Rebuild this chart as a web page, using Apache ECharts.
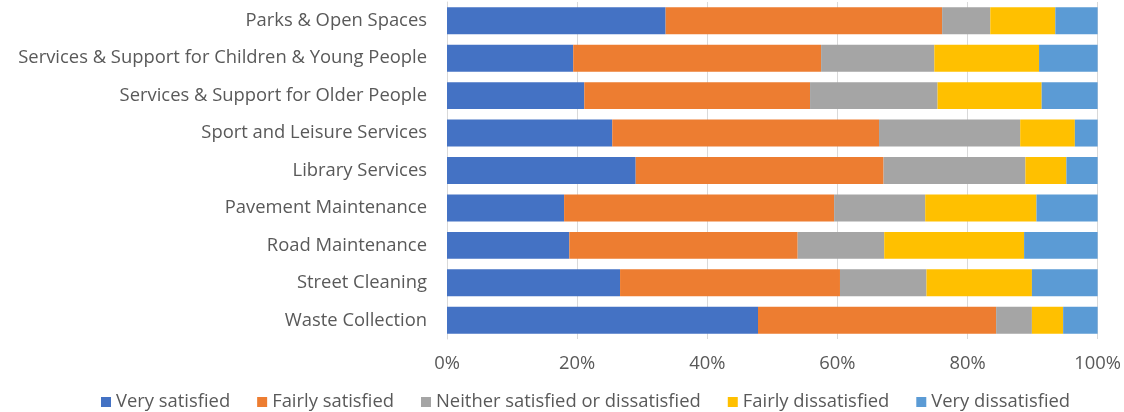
<!DOCTYPE html>
<html>
<head>
<meta charset="utf-8">
<script src="https://cdn.jsdelivr.net/npm/echarts@6/dist/echarts.min.js"></script>
<style>
  html, body { margin: 0; padding: 0; background: #fff; }
  #chart { width: 1124px; height: 412px; }
</style>
</head>
<body>
<div id="chart"></div>
<script>
// Resident satisfaction by council service (share of responses, %)
const categories = [
  'Parks & Open Spaces',
  'Services & Support for Children & Young People',
  'Services & Support for Older People',
  'Sport and Leisure Services',
  'Library Services',
  'Pavement Maintenance',
  'Road Maintenance',
  'Street Cleaning',
  'Waste Collection'
];
const verySatisfied       = [33.6, 19.4, 21.1, 25.4, 29.0, 18.0, 18.8, 26.6, 47.8];
const fairlySatisfied     = [42.5, 38.1, 34.7, 41.0, 38.1, 41.5, 35.1, 33.8, 36.6];
const neither             = [7.4, 17.4, 19.6, 21.7, 21.8, 14.0, 13.3, 13.3, 5.5];
const fairlyDissatisfied  = [10.0, 16.1, 16.0, 8.4, 6.3, 17.1, 21.5, 16.2, 4.8];
const veryDissatisfied    = [6.5, 9.0, 8.6, 3.5, 4.8, 9.4, 11.3, 10.1, 5.3];
const xTicks = [0, 20, 40, 60, 80, 100];

const seriesDefs = [
  { name: 'Very satisfied', data: verySatisfied, color: '#4472C4' },
  { name: 'Fairly satisfied', data: fairlySatisfied, color: '#ED7D31' },
  { name: 'Neither satisfied or dissatisfied', data: neither, color: '#A5A5A5' },
  { name: 'Fairly dissatisfied', data: fairlyDissatisfied, color: '#FFC000' },
  { name: 'Very dissatisfied', data: veryDissatisfied, color: '#5B9BD5' }
];

const font = '"Open Sans", "Noto Sans", sans-serif';
const fontSize = 18.4;
const chart = echarts.init(document.getElementById('chart'), null, { renderer: 'canvas' });
chart.setOption({
  animation: false,
  textStyle: { fontFamily: font },
  grid: { left: 447, right: 22, top: 2, bottom: 73, containLabel: false },
  legend: {
    left: 96,
    top: 388,
    itemWidth: 10,
    itemHeight: 10,
    itemGap: 27,
    icon: 'rect',
    textStyle: { fontFamily: font, fontSize: fontSize, color: '#595959' },
    data: seriesDefs.map(s => s.name)
  },
  xAxis: {
    type: 'value',
    min: xTicks[0],
    max: xTicks[xTicks.length - 1],
    interval: 20,
    axisLine: { show: false },
    axisTick: { show: false },
    splitLine: { show: true, lineStyle: { color: '#D9D9D9', width: 1 } },
    axisLabel: {
      formatter: v => v + '%',
      fontFamily: font, fontSize: fontSize, color: '#595959', margin: 16
    }
  },
  yAxis: {
    type: 'category',
    inverse: true,
    data: categories,
    axisLine: { show: true, lineStyle: { color: '#D9D9D9' } },
    axisTick: { show: false },
    axisLabel: { fontFamily: font, fontSize: fontSize, color: '#595959', margin: 20 }
  },
  series: seriesDefs.map(s => ({
    name: s.name,
    type: 'bar',
    stack: 'total',
    barCategoryGap: '28%',
    data: s.data,
    itemStyle: { color: s.color }
  }))
});
</script>
</body>
</html>
